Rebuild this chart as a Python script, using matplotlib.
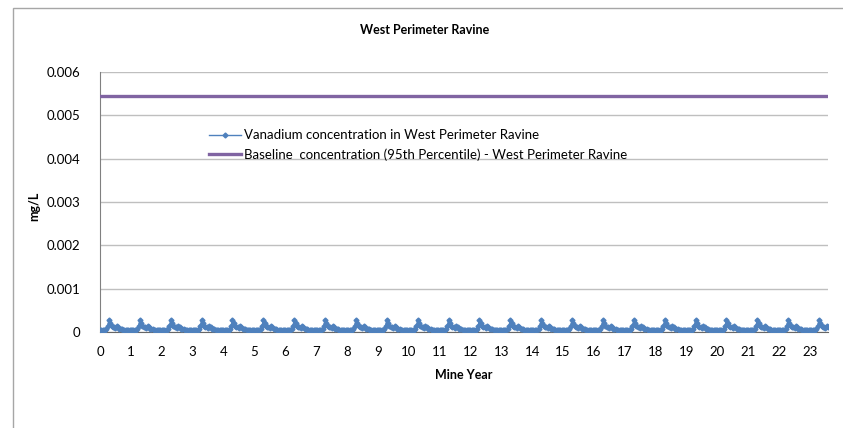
import matplotlib.pyplot as plt
from matplotlib.patches import Rectangle
import numpy as np

plt.rcParams['font.family'] = ['Lato', 'DejaVu Sans']

# one year of readings, sampled twice a month (24 per year), mg/L
year_cycle = [0.00005, 0.00005, 0.00005, 0.00005, 0.00005, 0.00006,
              0.00013, 0.00028, 0.00021, 0.00014, 0.00012, 0.00011,
              0.00010, 0.00013, 0.00011, 0.00008, 0.00007, 0.00006,
              0.00005, 0.00005, 0.00005, 0.00005, 0.00005, 0.00005]
n_years = 23
tail_points = 15          # the record stops part way through year 23
baseline = 0.00545        # 95th percentile baseline
xtick_labels = [str(i) for i in range(24)]

vanadium = np.array(year_cycle * n_years + year_cycle[:tail_points])
mine_year = np.arange(len(vanadium)) / 24.0

fig = plt.figure(figsize=(8.43, 4.28), dpi=100)
fig.patches.append(Rectangle((13 / 843, -0.1), 1.0, 1 - 8 / 428 + 0.1,
                             transform=fig.transFigure, fill=False,
                             edgecolor='#A6A6A6', linewidth=1.0))
ax = fig.add_axes([100 / 843, 1 - 332 / 428, 728 / 843, 260 / 428])

ax.plot(mine_year, vanadium, color='#4F81BD', lw=1.0, marker='D', ms=2.5,
        label='Vanadium concentration in West Perimeter Ravine', zorder=3)
ax.plot([mine_year[0], mine_year[-1]], [baseline, baseline], color='#8064A2', lw=2.4,
        label='Baseline  concentration (95th Percentile) - West Perimeter Ravine', zorder=3)

ax.set_xlim(0, mine_year[-1])
ax.set_ylim(0, 0.006)
ax.set_xticks(range(24))
ax.set_xticklabels(xtick_labels)
ax.set_yticks(np.arange(0, 0.0061, 0.001))
ax.set_yticklabels(['0', '0.001', '0.002', '0.003', '0.004', '0.005', '0.006'])
ax.tick_params(length=0, labelsize=9.5, colors='black')
ax.tick_params(axis='x', pad=10)
ax.tick_params(axis='y', pad=14)
ax.grid(axis='y', color='#BFBFBF', lw=1.0)
ax.set_axisbelow(True)
for s in ['top', 'right']:
    ax.spines[s].set_visible(False)
ax.spines['left'].set_color('#808080')
ax.spines['bottom'].set_color('#666666')

ax.set_xlabel('Mine Year', fontsize=9, fontweight='bold', labelpad=8)
ax.set_ylabel('mg/L', fontsize=9, fontweight='bold', va='center')
ax.yaxis.set_label_coords(-0.09, 0.485)
fig.text(425 / 843, 1 - 30 / 428, 'West Perimeter Ravine', ha='center', va='center',
         fontsize=9, fontweight='bold')

ax.legend(loc='upper left', bbox_to_anchor=(0.143, 0.80), frameon=False, fontsize=9.5,
          handlelength=2.4, handletextpad=0.2, labelspacing=0.55, borderaxespad=0)

fig.savefig('out.png', dpi=100)
